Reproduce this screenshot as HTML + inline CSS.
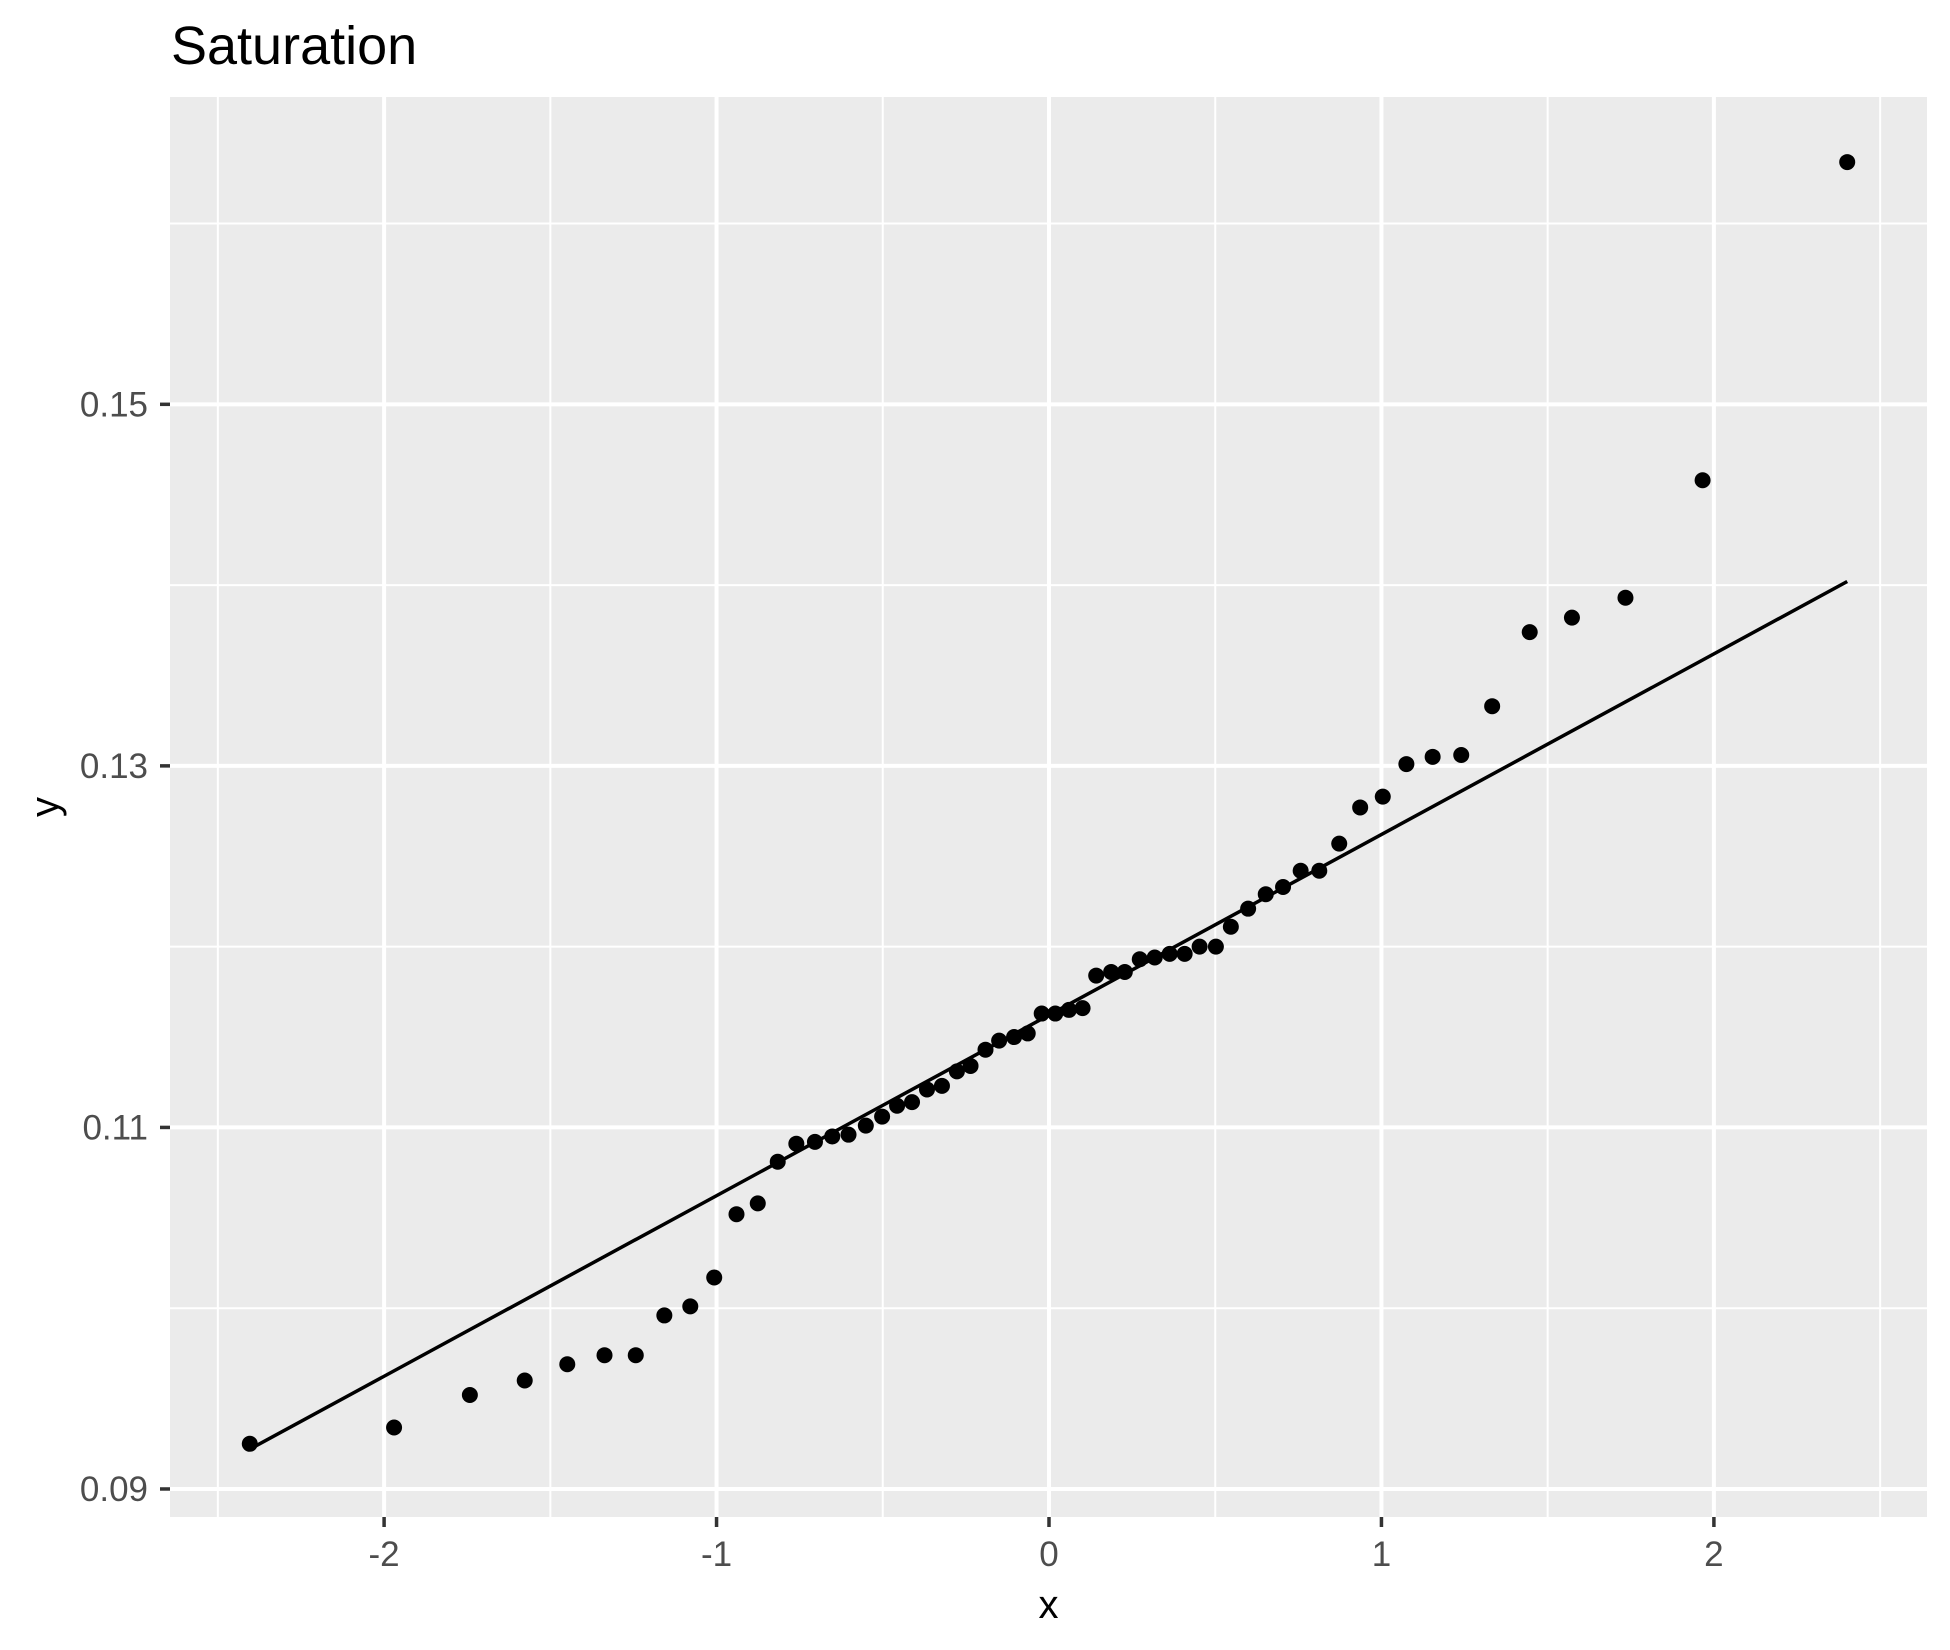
<!DOCTYPE html>
<html><head><meta charset="utf-8"><style>
html,body{margin:0;padding:0;background:#fff;}
svg{display:block;font-family:"Liberation Sans",sans-serif;}
</style></head><body>
<svg id="chart" width="1950" height="1650" viewBox="0 0 1950 1650"></svg>
<script>
const xQuantiles=[-2.404,-1.97,-1.742,-1.577,-1.449,-1.337,-1.243,-1.157,-1.079,-1.007,-0.940,-0.876,-0.816,-0.760,-0.704,-0.652,-0.603,-0.551,-0.502,-0.457,-0.412,-0.367,-0.322,-0.277,-0.236,-0.191,-0.150,-0.105,-0.064,-0.022,0.019,0.060,0.101,0.142,0.187,0.228,0.273,0.318,0.363,0.408,0.453,0.502,0.547,0.599,0.652,0.704,0.757,0.813,0.873,0.936,1.004,1.075,1.154,1.240,1.333,1.446,1.573,1.734,1.966,2.401];
const yValues=[0.0925,0.0934,0.0952,0.0960,0.0969,0.0974,0.0974,0.0996,0.1001,0.1017,0.1052,0.1058,0.1081,0.1091,0.1092,0.1095,0.1096,0.1101,0.1106,0.1112,0.1114,0.1121,0.1123,0.1131,0.1134,0.1143,0.1148,0.1150,0.1152,0.1163,0.1163,0.1165,0.1166,0.1184,0.1186,0.1186,0.1193,0.1194,0.1196,0.1196,0.1200,0.1200,0.1211,0.1221,0.1229,0.1233,0.1242,0.1242,0.1257,0.1277,0.1283,0.1301,0.1305,0.1306,0.1333,0.1374,0.1382,0.1393,0.1458,0.1634];
const lineX=[-2.404,2.401];
const lineY=[0.0922,0.1402];
const xTicks=[-2,-1,0,1,2];
const xTickLabels=["-2","-1","0","1","2"];
const xMinor=[-2.5,-1.5,-0.5,0.5,1.5,2.5];
const yTicks=[0.09,0.11,0.13,0.15];
const yTickLabels=["0.09","0.11","0.13","0.15"];
const yMinor=[0.10,0.12,0.14,0.16];

const NS="http://www.w3.org/2000/svg";
const svg=document.getElementById('chart');
const PL=170,PR=1927,PT=97,PB=1517;
const X0=-2.644,X1=2.641,Y0=0.08845,Y1=0.1670;
function sx(v){return PL+(v-X0)/(X1-X0)*(PR-PL);}
function sy(v){return PB-(v-Y0)/(Y1-Y0)*(PB-PT);}
function mk(tag,attrs){const e=document.createElementNS(NS,tag);for(const k in attrs)e.setAttribute(k,attrs[k]);svg.appendChild(e);return e;}

let e=mk('rect',{x:PL,y:PT,width:PR-PL,height:PB-PT,fill:'#ebebeb'});


xMinor.forEach(v=>{const l=mk('line',{x1:sx(v),x2:sx(v),y1:PT,y2:PB,stroke:'#fff','stroke-width':2});

});
yMinor.forEach(v=>{const l=mk('line',{x1:PL,x2:PR,y1:sy(v),y2:sy(v),stroke:'#fff','stroke-width':2});

});
xTicks.forEach((v,i)=>{const l=mk('line',{x1:sx(v),x2:sx(v),y1:PT,y2:PB,stroke:'#fff','stroke-width':4});


const t=mk('line',{x1:sx(v),x2:sx(v),y1:PB,y2:PB+10,stroke:'#333','stroke-width':3.5});


const tx=mk('text',{x:sx(v),y:1566,'text-anchor':'middle','font-size':35,fill:'#4d4d4d'});tx.textContent=xTickLabels[i];

});
yTicks.forEach((v,i)=>{const l=mk('line',{x1:PL,x2:PR,y1:sy(v),y2:sy(v),stroke:'#fff','stroke-width':4});


const t=mk('line',{x1:PL-10,x2:PL,y1:sy(v),y2:sy(v),stroke:'#333','stroke-width':3.5});


const tx=mk('text',{x:148,y:sy(v)+12,'text-anchor':'end','font-size':35,fill:'#4d4d4d'});tx.textContent=yTickLabels[i];

});
const rl=mk('line',{x1:sx(lineX[0]),y1:sy(lineY[0]),x2:sx(lineX[1]),y2:sy(lineY[1]),stroke:'#000','stroke-width':3.5});


xQuantiles.forEach((v,i)=>{const c=mk('circle',{cx:sx(v),cy:sy(yValues[i]),r:8,fill:'#000'});

});
let t=mk('text',{x:171,y:64,'font-size':54,fill:'#000'});t.textContent='Saturation';


t=mk('text',{x:(PL+PR)/2,y:1618,'text-anchor':'middle','font-size':40,fill:'#000'});t.textContent='x';


t=mk('text',{x:0,y:0,'text-anchor':'middle','font-size':40,fill:'#000',transform:'translate(58,'+((PT+PB)/2)+') rotate(-90)'});t.textContent='y';


</script>
</body></html>
